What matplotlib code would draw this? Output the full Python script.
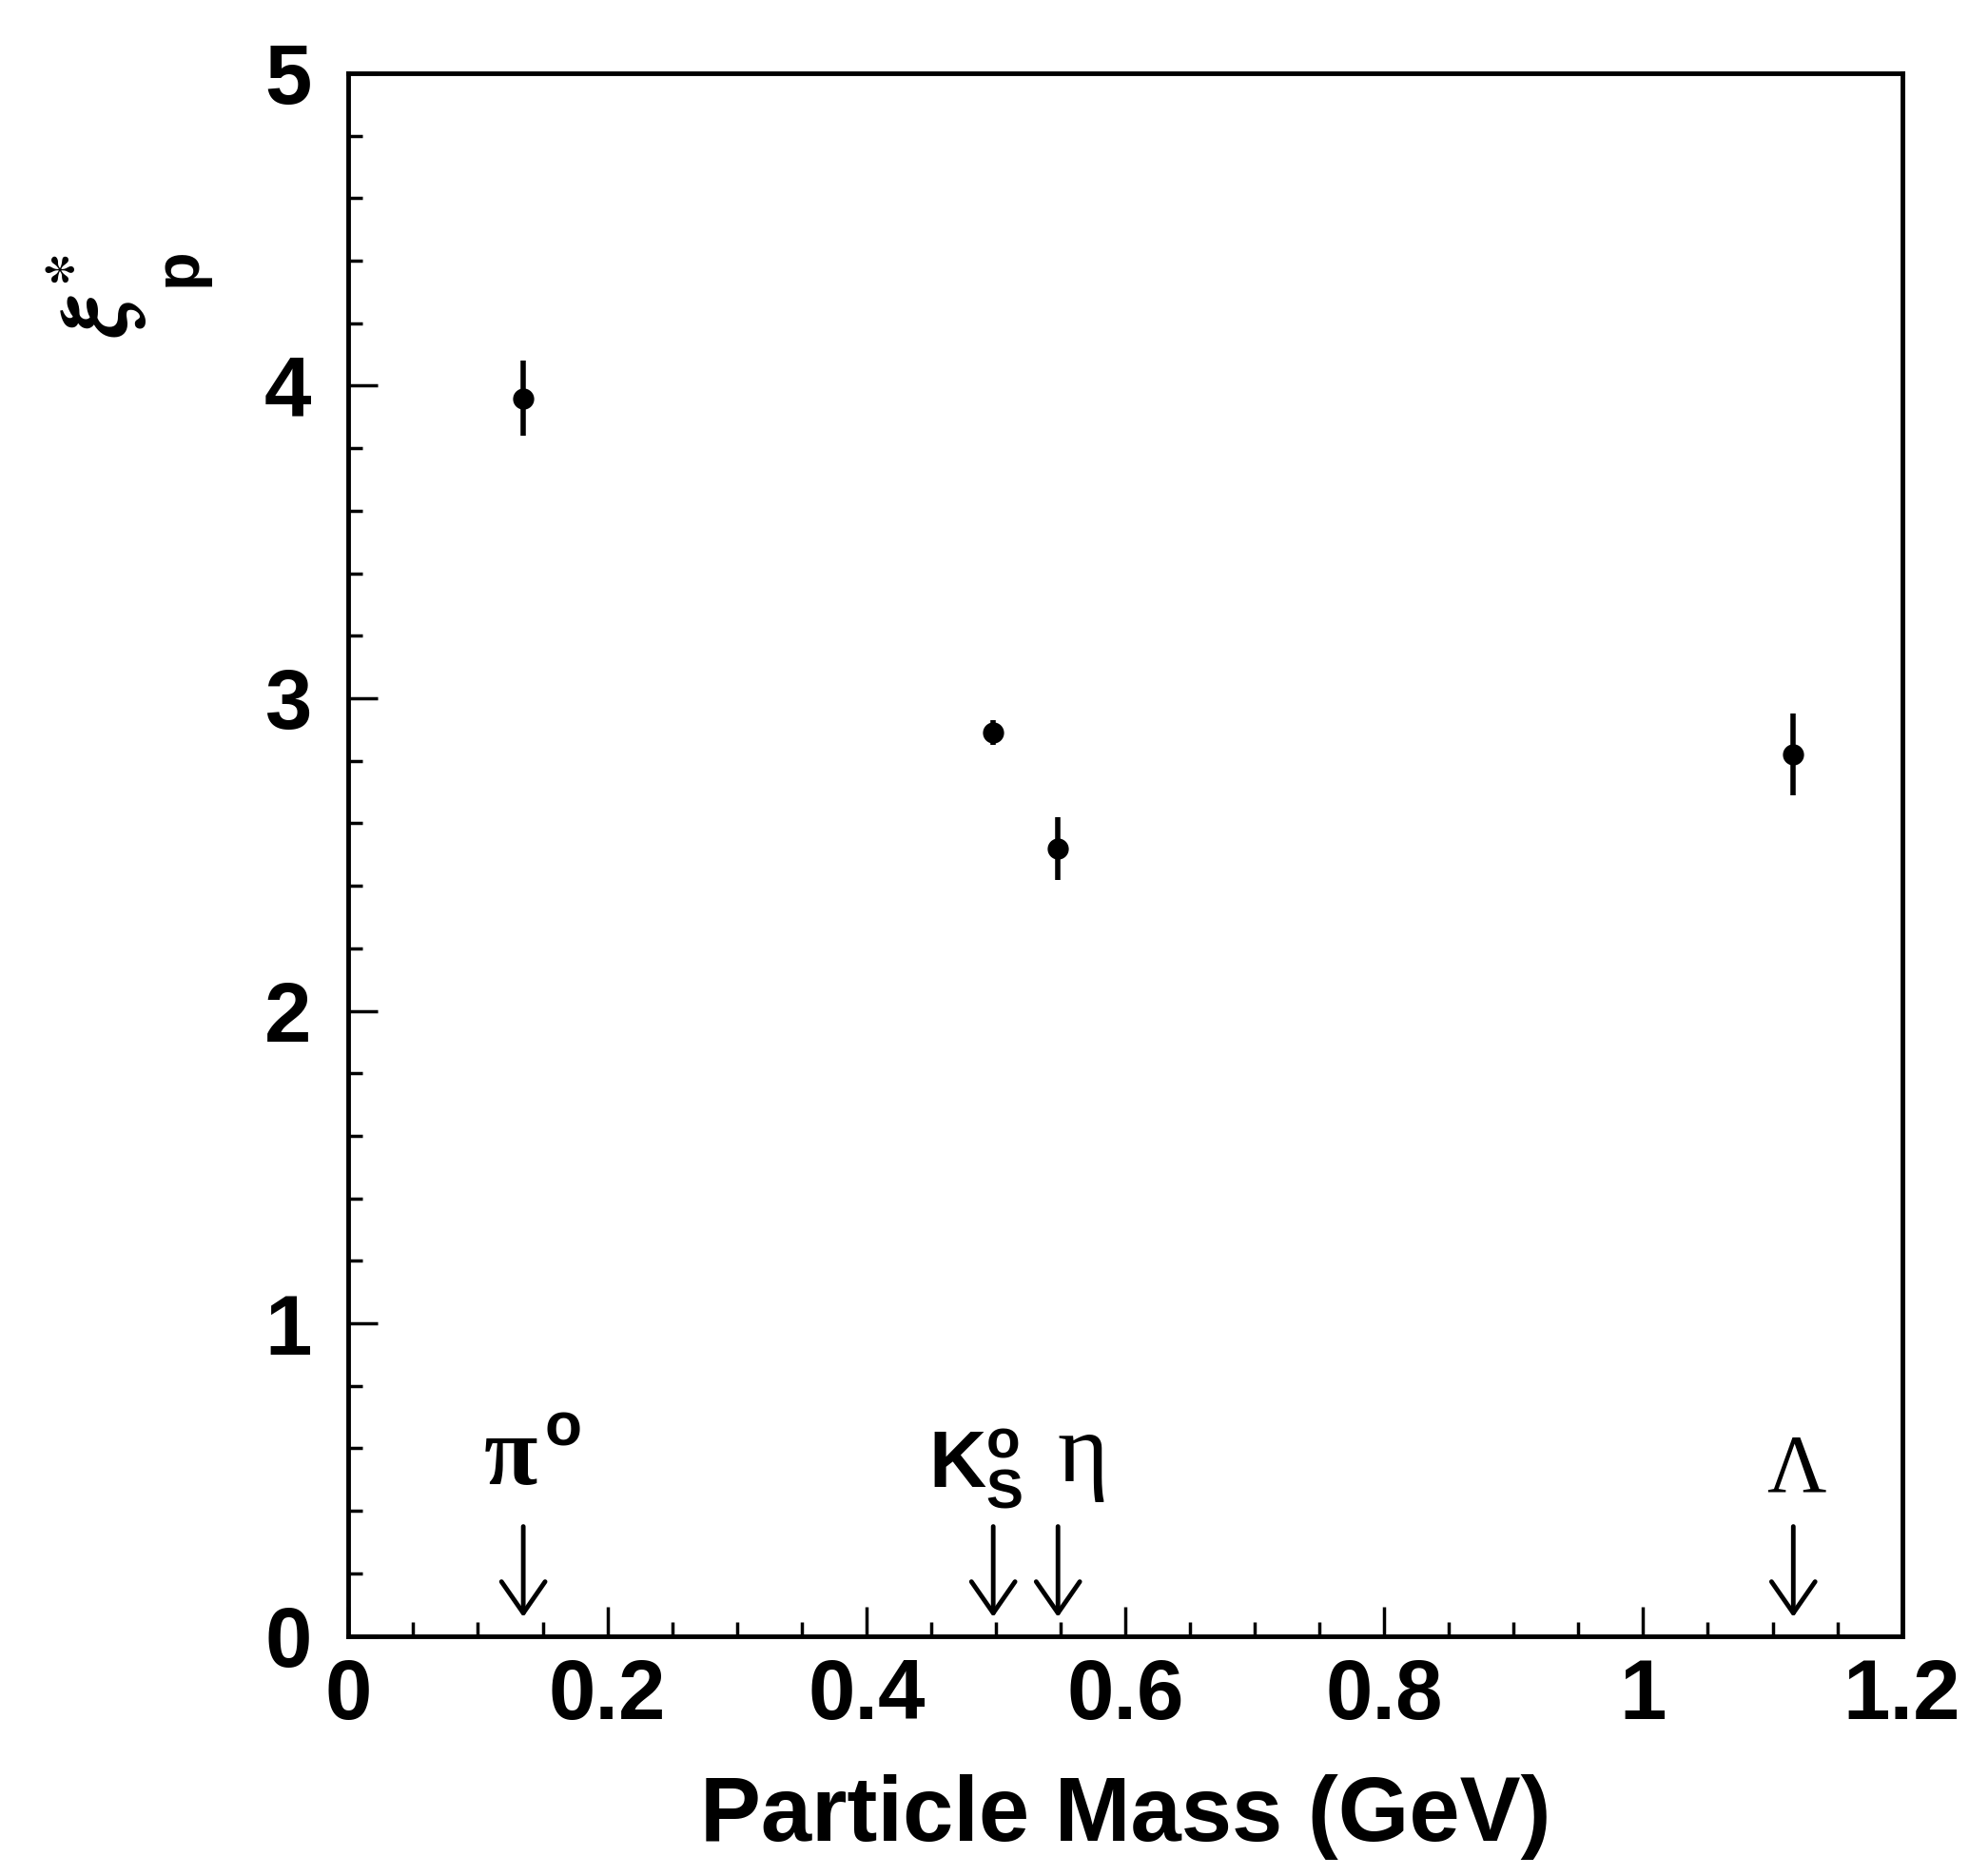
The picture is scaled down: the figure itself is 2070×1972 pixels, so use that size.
import numpy as np
import matplotlib
matplotlib.use("Agg")
import matplotlib.pyplot as plt
from matplotlib.ticker import MultipleLocator

# particle masses (GeV) and measured xi*_p peak positions
particles = ["pi0", "K0s", "eta", "Lambda"]
mass = [0.135, 0.498, 0.548, 1.116]
xi_peak = [3.96, 2.89, 2.52, 2.82]
xi_err = [0.12, 0.04, 0.10, 0.13]

plt.rcParams['font.family'] = ['Liberation Sans', 'DejaVu Sans']
plt.rcParams['font.weight'] = 'bold'
plt.rcParams['mathtext.fontset'] = 'custom'
plt.rcParams['mathtext.rm'] = 'Liberation Sans:bold'
plt.rcParams['mathtext.it'] = 'Liberation Sans:bold'
plt.rcParams['mathtext.bf'] = 'Liberation Sans:bold'

fig = plt.figure(figsize=(20.7, 19.72), dpi=100)
ax = fig.add_axes([0.177, 0.128, 0.789, 0.833])

ax.errorbar(mass, xi_peak, yerr=xi_err, fmt='o', color='k', ms=15,
            elinewidth=4, capsize=0)

ax.set_xlim(0, 1.2)
ax.set_ylim(0, 5)
ax.xaxis.set_minor_locator(MultipleLocator(0.05))
ax.yaxis.set_major_locator(MultipleLocator(1))
ax.yaxis.set_minor_locator(MultipleLocator(0.2))
ax.set_xticks([0, 0.2, 0.4, 0.6, 0.8, 1.0, 1.2])
ax.set_xticklabels(['0', '0.2', '0.4', '0.6', '0.8', '1', '1.2'])

ax.tick_params(which='both', direction='in', top=False, right=False,
               width=2.5, labelsize=64)
ax.tick_params(which='major', length=22)
ax.tick_params(axis='x', which='major', pad=16)
ax.tick_params(axis='y', which='major', pad=28)
ax.tick_params(which='minor', length=11)
for lab in ax.get_xticklabels() + ax.get_yticklabels():
    lab.set_fontweight('bold')
for sp in ax.spines.values():
    sp.set_linewidth(3.5)

ax.set_xlabel('Particle Mass (GeV)', fontsize=69, fontweight='bold', labelpad=28)

# y label: xi* (serif) with bold sans subscript p
ax.text(-0.162, 0.858, r'$\xi^{*}$', transform=ax.transAxes, rotation=90,
        fontsize=72, ha='center', va='center', math_fontfamily='stix',
        fontweight='normal')
ax.text(-0.109, 0.876, 'p', transform=ax.transAxes, rotation=90,
        fontsize=48, ha='center', va='center', fontweight='bold')

# arrows marking each particle mass
for m in mass:
    ax.annotate('', xy=(m, 0.06), xytext=(m, 0.35),
                arrowprops=dict(arrowstyle='->,head_length=0.36,head_width=0.25',
                                lw=3.5, mutation_scale=66, color='k',
                                shrinkA=0, shrinkB=0))

serif = ['Liberation Serif', 'DejaVu Serif']
ax.text(0.125, 0.486, 'π', family=serif, fontsize=74, fontweight='bold',
        ha='center', va='baseline')
ax.text(0.166, 0.61, 'o', fontsize=46, fontweight='bold', ha='center', va='baseline')
ax.text(0.521, 0.474, r'$\mathrm{K}^{\mathrm{o}}_{\mathrm{S}}$', fontsize=60,
        ha='right', va='baseline')
ax.text(0.567, 0.494, 'η', family=serif, fontsize=74, fontweight='normal',
        ha='center', va='baseline')
ax.text(1.118, 0.462, 'Λ', family=serif, fontsize=62, fontweight='normal',
        ha='center', va='baseline')

fig.savefig('out.png', dpi=100, facecolor='white')
